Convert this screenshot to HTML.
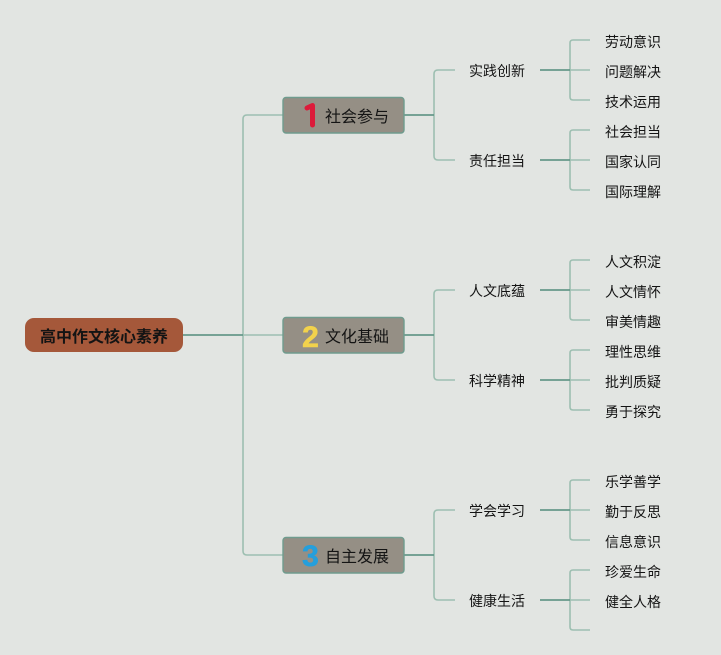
<!DOCTYPE html>
<html lang="zh">
<head>
<meta charset="utf-8">
<style>
html,body{margin:0;padding:0;background:#e2e5e2;width:721px;height:655px;overflow:hidden}
svg{display:block}
text{font-family:"Liberation Sans","Noto Sans CJK SC",sans-serif;fill:#141414}
.l{fill:none;stroke:#9dbfb1;stroke-width:1.6}
.d{fill:none;stroke:#66998a;stroke-width:1.8}
.t{font-size:14px}
.m{font-size:16px}
.n{font-size:30px;font-weight:bold;text-anchor:middle}
.b{fill:#958f85;stroke:#6f9c8e;stroke-width:1.4}
</style>
</head>
<body>
<svg width="721" height="655" viewBox="0 0 721 655" xmlns="http://www.w3.org/2000/svg">
<rect width="721" height="655" fill="#e2e5e2"/>

<!-- root connectors -->
<path class="l" d="M243 335H283M283 115H247Q243 115 243 119V551Q243 555 247 555H283"/>
<path class="d" d="M183 335H243"/>

<!-- level 1 to level 2 -->
<g>
<path class="l" d="M455 70H438Q434 70 434 74V156Q434 160 438 160H455"/>
<path class="d" d="M404 115H434"/>
<path class="l" d="M570 70H590M590 40H573Q570 40 570 43V97Q570 100 573 100H590"/>
<path class="d" d="M540 70H570"/>
<path class="l" d="M570 160H590M590 130H573Q570 130 570 133V187Q570 190 573 190H590"/>
<path class="d" d="M540 160H570"/>
</g>
<g>
<path class="l" d="M455 290H438Q434 290 434 294V376Q434 380 438 380H455"/>
<path class="d" d="M404 335H434"/>
<path class="l" d="M570 290H590M590 260H573Q570 260 570 263V317Q570 320 573 320H590"/>
<path class="d" d="M540 290H570"/>
<path class="l" d="M570 380H590M590 350H573Q570 350 570 353V407Q570 410 573 410H590"/>
<path class="d" d="M540 380H570"/>
</g>
<g>
<path class="l" d="M455 510H438Q434 510 434 514V596Q434 600 438 600H455"/>
<path class="d" d="M404 555H434"/>
<path class="l" d="M570 510H590M590 480H573Q570 480 570 483V537Q570 540 573 540H590"/>
<path class="d" d="M540 510H570"/>
<path class="l" d="M570 600H590M590 570H573Q570 570 570 573V627Q570 630 573 630H590"/>
<path class="d" d="M540 600H570"/>
</g>

<!-- root -->
<rect x="25" y="318" width="158" height="34" rx="9" fill="#a5583a"/>
<text x="40" y="342" class="m" style="font-weight:bold">高中作文核心素养</text>

<!-- level 1 boxes -->
<rect class="b" x="283" y="97.500" width="121" height="35.500" rx="3"/>
<rect class="b" x="283" y="317.500" width="121" height="35.500" rx="3"/>
<rect class="b" x="283" y="537.500" width="121" height="35.500" rx="3"/>

<path d="M307 108L312.500 105.500V125" fill="none" stroke="#dc1a3a" stroke-width="5" stroke-linecap="round" stroke-linejoin="round"/>
<text x="310.500" y="347" class="n" style="fill:#f2d24c;stroke:#f2d24c;stroke-width:.6">2</text>
<text x="310.500" y="566" class="n" style="fill:#259fdc;stroke:#259fdc;stroke-width:.6">3</text>

<text x="325" y="122" class="m">社会参与</text>
<text x="325" y="342" class="m">文化基础</text>
<text x="325" y="562" class="m">自主发展</text>

<!-- level 2 -->
<text x="469" y="76" class="t">实践创新</text>
<text x="469" y="166" class="t">责任担当</text>
<text x="469" y="296" class="t">人文底蕴</text>
<text x="469" y="386" class="t">科学精神</text>
<text x="469" y="516" class="t">学会学习</text>
<text x="469" y="606" class="t">健康生活</text>

<!-- level 3 -->
<text x="605" y="47" class="t">劳动意识</text>
<text x="605" y="77" class="t">问题解决</text>
<text x="605" y="107" class="t">技术运用</text>
<text x="605" y="137" class="t">社会担当</text>
<text x="605" y="167" class="t">国家认同</text>
<text x="605" y="197" class="t">国际理解</text>
<text x="605" y="267" class="t">人文积淀</text>
<text x="605" y="297" class="t">人文情怀</text>
<text x="605" y="327" class="t">审美情趣</text>
<text x="605" y="357" class="t">理性思维</text>
<text x="605" y="387" class="t">批判质疑</text>
<text x="605" y="417" class="t">勇于探究</text>
<text x="605" y="487" class="t">乐学善学</text>
<text x="605" y="517" class="t">勤于反思</text>
<text x="605" y="547" class="t">信息意识</text>
<text x="605" y="577" class="t">珍爱生命</text>
<text x="605" y="607" class="t">健全人格</text>
</svg>
</body>
</html>
